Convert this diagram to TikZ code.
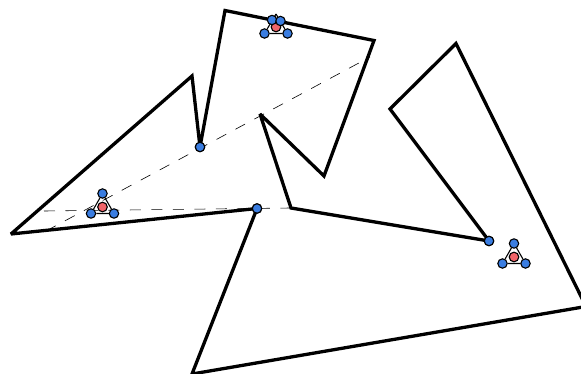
\documentclass[tikz,border=0pt]{standalone}
\definecolor{guardblue}{RGB}{58,125,225}
\definecolor{centerred}{RGB}{240,100,105}
\tikzset{
  wall/.style={line width=3.3pt,line join=miter,miter limit=2.2,draw=black},
  sight/.style={line width=0.6pt,draw=black,dash pattern=on 11pt off 10.5pt},
  guard/.style={circle,draw=black,line width=1.1pt,fill=guardblue,minimum size=9.4pt,inner sep=0pt},
  centre/.style={circle,draw=black,line width=1.1pt,fill=centerred,minimum size=9.6pt,inner sep=0pt},
  tri/.style={line width=1.1pt,draw=black}
}
\begin{document}
\begin{tikzpicture}[x=1pt,y=-1pt]
\useasboundingbox (0,0) rectangle (581,374);
\clip (0,0) rectangle (581,374);
\coordinate (p1) at (225,10.5);
\coordinate (p2) at (374,40.5);
\coordinate (p3) at (324,176);
\coordinate (p4) at (260,114);
\coordinate (p5) at (291,208);
\coordinate (p7) at (390,109);
\coordinate (p8) at (456,43.5);
\coordinate (p9) at (586,306.5);
\coordinate (p10) at (192,374);
\coordinate (p12) at (11,234);
\coordinate (p13) at (192,76);
\coordinate (s1) at (44,211);
\coordinate (s2) at (46,231);
\coordinate (s3) at (370,57);
\coordinate (b1) at (276,14);
\node[guard] (g1) at (200,147) {};
\node[guard] (g2) at (257,208.5) {};
\node[guard] (g3) at (489,241) {};
\draw[sight] (s1) -- (p5);
\draw[sight] (s2) -- (s3);
\draw[wall] (p1) -- (p2) -- (p3) -- (p4) -- (p5) -- (g3.center) -- (p7) -- (p8) -- (p9) -- (p10) -- (g2.center) -- (p12) -- (p13) -- (g1.center) -- cycle;
\node[guard] at (g1) {};
\node[guard] at (g2) {};
\node[guard] at (g3) {};
% triangle A
\node[guard] (a1) at (102.5,193.5) {};
\node[guard] (a2) at (91,213.5) {};
\node[guard] (a3) at (114,213.5) {};
\draw[tri] (a1) -- (a2) -- (a3) -- (a1);
\node[centre] (ac) at (102.5,207) {};
% triangle B
\node[guard] (b2) at (264.5,33.5) {};
\node[guard] (b3) at (287.5,33.5) {};
\draw[tri] (b1) -- (b2) -- (b3) -- (b1);
\node[centre] (bc) at (276,27) {};
\node[guard] (b4) at (272,20) {};
\node[guard] (b5) at (280.5,21) {};
% triangle C
\node[guard] (c1) at (514,243.5) {};
\node[guard] (c2) at (502.5,263.5) {};
\node[guard] (c3) at (525.5,263.5) {};
\draw[tri] (c1) -- (c2) -- (c3) -- (c1);
\node[centre] (cc) at (514,257) {};
\end{tikzpicture}
\end{document}
